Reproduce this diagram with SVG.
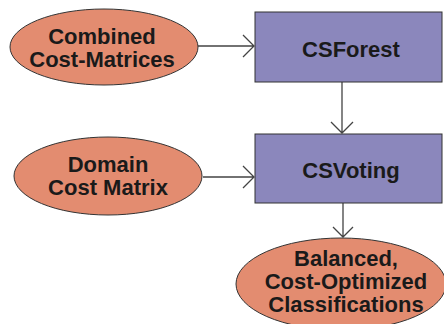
<svg xmlns="http://www.w3.org/2000/svg" width="444" height="324" viewBox="0 0 444 324">
<style>
.ell{fill:#E38C70;stroke:#333;stroke-width:1}
.box{fill:#8B87BC;stroke:#333;stroke-width:1}
.t{font-family:"Liberation Sans",Arial,sans-serif;font-weight:bold;font-size:22px;fill:#1a1a1a;text-anchor:middle}
.c{fill:none;stroke:#444;stroke-width:1.3}
</style>
<rect width="444" height="324" fill="#fff"/>
<g id="connectors">
<path class="c" d="M198,46 H254 M243,35 L254,46 L243,57"/>
<path class="c" d="M342,82 V133 M331,122 L342,133 L353,122"/>
<path class="c" d="M203,177 H254 M243,166 L254,177 L243,188"/>
<path class="c" d="M343,203 V237 M333,227 L343,237 L353,227"/>
</g>
<g id="combined">
<ellipse class="ell" cx="104" cy="47" rx="94" ry="38"/>
<text class="t" x="102" y="43.5">Combined</text>
<text class="t" x="102" y="67">Cost-Matrices</text>
</g>
<g id="csforest">
<rect class="box" x="255" y="12" width="187" height="70"/>
<text class="t" x="351" y="57">CSForest</text>
</g>
<g id="domain">
<ellipse class="ell" cx="108" cy="176" rx="94" ry="39"/>
<text class="t" x="108" y="172">Domain</text>
<text class="t" x="108" y="195">Cost Matrix</text>
</g>
<g id="csvoting">
<rect class="box" x="255" y="134" width="187" height="69"/>
<text class="t" x="351" y="178">CSVoting</text>
</g>
<g id="balanced">
<ellipse class="ell" cx="341" cy="284" rx="105" ry="46"/>
<text class="t" x="346" y="266">Balanced,</text>
<text class="t" x="346" y="289">Cost-Optimized</text>
<text class="t" x="346" y="312">Classifications</text>
</g>
</svg>
